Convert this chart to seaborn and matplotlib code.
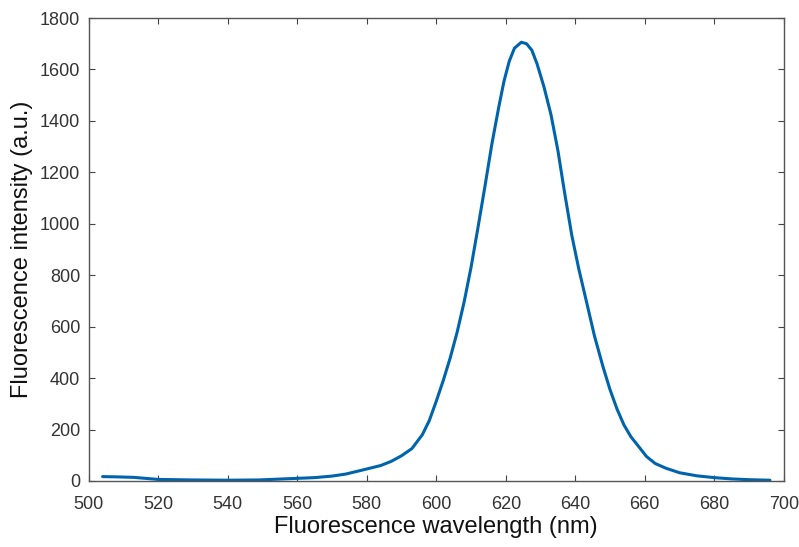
import pandas as pd
import matplotlib
matplotlib.use("Agg")
import matplotlib.pyplot as plt
import seaborn as sns

# Spectre
wavelength = [504, 508, 513, 520, 530, 540, 549, 556, 565, 570, 574, 578, 581,
              584, 587, 590, 593, 596, 598, 600, 602, 604, 606, 608, 610, 612,
              614, 616, 618, 619.5, 621, 622.5, 624.5, 626, 627.5, 629, 631, 633,
              635, 637, 639, 641, 643, 645.5, 648, 650, 652, 654, 656, 658,
              660.5, 663, 666, 670, 675, 680, 685, 690, 696]
intensity = [17, 16, 14, 6, 4, 3, 4, 8, 13, 19, 27, 40, 50,
             60, 76, 98, 126, 180, 235, 310, 390, 478, 578, 695, 830, 985,
             1145, 1310, 1455, 1555, 1632, 1683, 1706, 1700, 1675, 1622, 1532, 1425,
             1285, 1115, 955, 825, 710, 565, 443, 355, 280, 218, 172, 138,
             95, 68, 50, 32, 20, 13, 8, 5, 3]

x_ticks = [500, 520, 540, 560, 580, 600, 620, 640, 660, 680, 700]
y_ticks = [0, 200, 400, 600, 800, 1000, 1200, 1400, 1600, 1800]

df = pd.DataFrame({"wavelength": wavelength, "intensity": intensity})

sns.set_style("ticks")
plt.rcParams['font.family'] = ['Liberation Sans', 'DejaVu Sans']

fig = plt.figure(figsize=(7.99, 5.47), dpi=100)
ax = fig.add_axes([0.111, 0.1207, 0.870, 0.8463])

sns.lineplot(data=df, x="wavelength", y="intensity", color="#0064ad",
             linewidth=2.2, ax=ax)

ax.set_xlim(500, 700)
ax.set_ylim(0, 1800)
ax.set_xticks(x_ticks)
ax.set_yticks(y_ticks)
ax.set_xlabel("Fluorescence wavelength (nm)", fontsize=17, color="#111111", labelpad=2)
ax.set_ylabel("Fluorescence intensity (a.u.)", fontsize=17, color="#111111", labelpad=5)

ax.tick_params(direction="in", length=4, width=0.8, top=True, right=True,
               labelsize=13, labelcolor="#333333", color="#444444")
ax.tick_params(axis="x", pad=11)
ax.tick_params(axis="y", pad=6)
for side in ["top", "bottom", "left", "right"]:
    ax.spines[side].set_visible(True)
    ax.spines[side].set_color("#555555")
    ax.spines[side].set_linewidth(1.0)

plt.savefig("out.png", dpi=100)
